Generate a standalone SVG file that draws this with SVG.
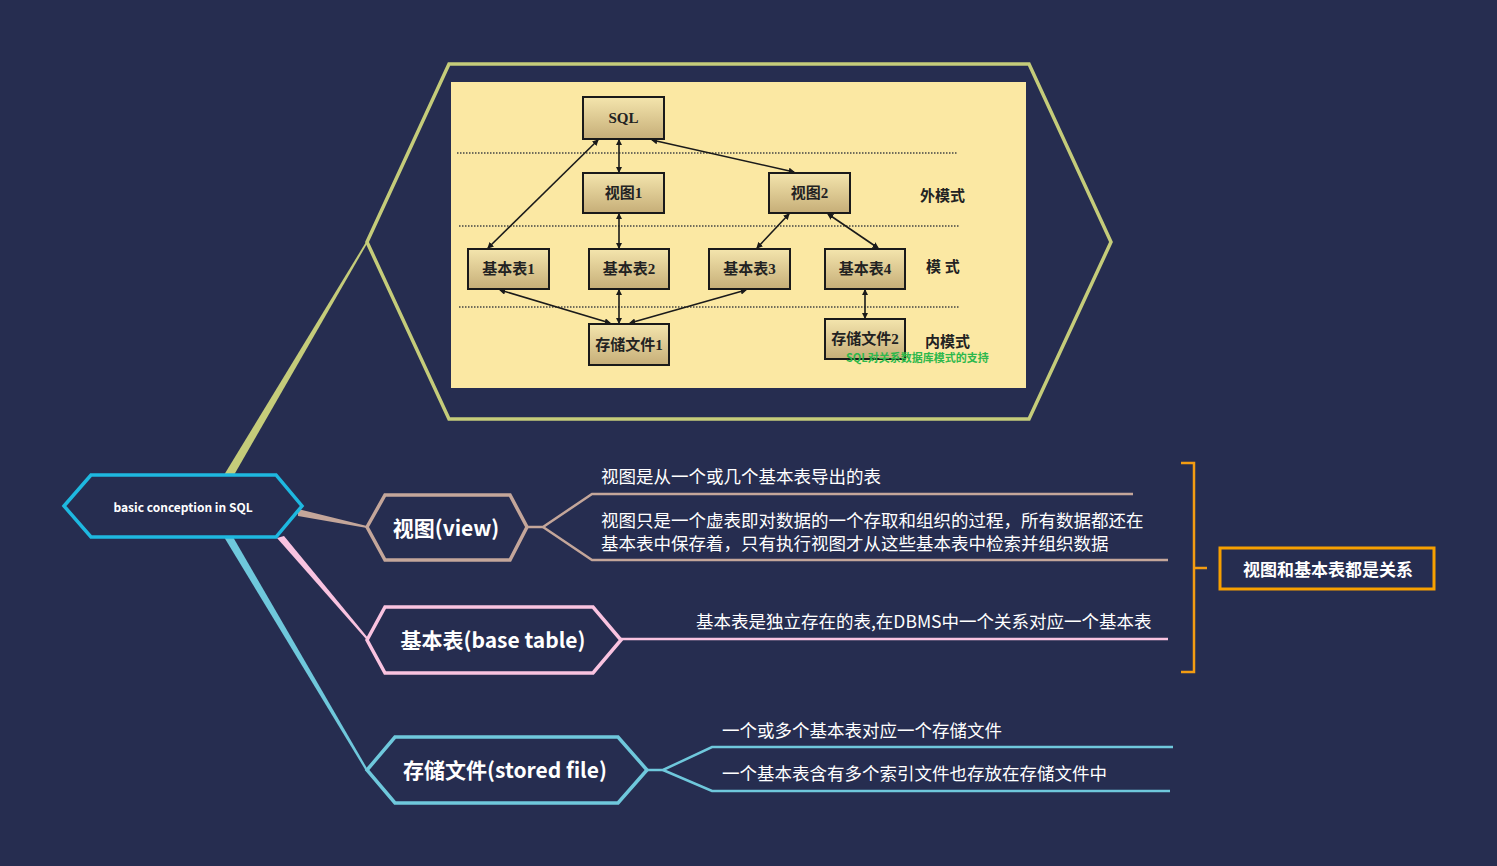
<svg xmlns="http://www.w3.org/2000/svg" width="1497" height="866" viewBox="0 0 1497 866">
<defs>
<style>
.bg{fill:#262d50}
.hexfill{fill:#262d50}
.lbl{font-family:"Noto Sans CJK SC","Noto Sans",sans-serif;fill:#ffffff}
.node{font-family:"Noto Sans CJK SC","Noto Sans",sans-serif;font-weight:bold;fill:#ffffff;text-anchor:middle;dominant-baseline:central}
.box{fill:url(#boxg);stroke:#1a1a1a;stroke-width:2}
.bt{font-family:"Liberation Serif","Noto Sans CJK SC",serif;font-weight:bold;font-size:15px;fill:#222;text-anchor:middle;dominant-baseline:central}
.dot{stroke:#444;stroke-width:1.5;stroke-dasharray:1.5 1.5;fill:none}
.ar{stroke:#1a1a1a;stroke-width:1.6;fill:none;marker-start:url(#ah);marker-end:url(#ah)}
.side{font-family:"Liberation Serif","Noto Sans CJK SC",serif;font-weight:bold;font-size:15px;fill:#222;dominant-baseline:central}
</style>
<linearGradient id="boxg" x1="0" y1="0" x2="0" y2="1">
<stop offset="0" stop-color="#f4e5ad"/>
<stop offset="1" stop-color="#c6ae78"/>
</linearGradient>
<marker id="ah" viewBox="0 0 6 6" refX="5" refY="3" markerWidth="4" markerHeight="4" orient="auto-start-reverse" markerUnits="strokeWidth">
<path d="M0,0 L6,3 L0,6 z" fill="#1a1a1a"/>
</marker>
</defs>
<rect class="bg" x="0" y="0" width="1497" height="866"/>

<g id="connectors">
<polygon points="224,475 234,475 368,242 366,242" fill="#c5cc7a"/>
<polygon points="298,509 298,516 367,528 367,526" fill="#c4a69a"/>
<polygon points="277,538 284,536 368,638 366,639" fill="#f9c3e0"/>
<polygon points="224,537 233,537 368,770 366,771" fill="#6fc8dc"/>
<polyline points="527,527 543,527 592,494 1133,494" fill="none" stroke="#c4a69a" stroke-width="2.5"/>
<polyline points="543,527 592,560 1168,560" fill="none" stroke="#c4a69a" stroke-width="2.5"/>
<line x1="621" y1="639" x2="1168" y2="639" stroke="#f9c3e0" stroke-width="2.5"/>
<polyline points="647,770 663,770 712,747 1173,747" fill="none" stroke="#6fc8dc" stroke-width="2.5"/>
<polyline points="663,770 712,791 1170,791" fill="none" stroke="#6fc8dc" stroke-width="2.5"/>
<polyline points="1181,463 1194,463 1194,672 1181,672" fill="none" stroke="#f39c12" stroke-width="2.5"/>
<line x1="1194" y1="568" x2="1207" y2="568" stroke="#f39c12" stroke-width="2.5"/>
</g>

<g id="image-node">
<polygon points="367,242 449,64 1029,64 1111,242 1029,419 449,419" class="hexfill" stroke="#c5cc7a" stroke-width="3.5"/>
<rect x="451" y="82" width="575" height="306" fill="#fbe8a3"/>
<line class="dot" x1="457" y1="153" x2="958" y2="153"/>
<line class="dot" x1="459" y1="226" x2="960" y2="226"/>
<line class="dot" x1="459" y1="307" x2="960" y2="307"/>
<g id="inner-arrows">
<line class="ar" x1="598" y1="140" x2="488" y2="248"/>
<line class="ar" x1="619" y1="140" x2="619" y2="172"/>
<line class="ar" x1="652" y1="140" x2="794" y2="172"/>
<line class="ar" x1="619" y1="214" x2="619" y2="248"/>
<line class="ar" x1="789" y1="214" x2="757" y2="248"/>
<line class="ar" x1="828" y1="214" x2="878" y2="248"/>
<line class="ar" x1="500" y1="290" x2="610" y2="323"/>
<line class="ar" x1="619" y1="290" x2="619" y2="323"/>
<line class="ar" x1="746" y1="290" x2="630" y2="323"/>
<line class="ar" x1="865" y1="290" x2="865" y2="318"/>
</g>
<g id="b-sql"><rect class="box" x="583" y="97" width="81" height="42"/><text class="bt" x="623.5" y="118">SQL</text></g>
<g id="b-v1"><rect class="box" x="583" y="173" width="81" height="40"/><text class="bt" x="623.5" y="193">视图1</text></g>
<g id="b-v2"><rect class="box" x="769" y="173" width="81" height="40"/><text class="bt" x="809.5" y="193">视图2</text></g>
<g id="b-t1"><rect class="box" x="468" y="249" width="81" height="40"/><text class="bt" x="508.5" y="269">基本表1</text></g>
<g id="b-t2"><rect class="box" x="589" y="249" width="80" height="40"/><text class="bt" x="629" y="269">基本表2</text></g>
<g id="b-t3"><rect class="box" x="709" y="249" width="81" height="40"/><text class="bt" x="749.5" y="269">基本表3</text></g>
<g id="b-t4"><rect class="box" x="825" y="249" width="80" height="40"/><text class="bt" x="865" y="269">基本表4</text></g>
<g id="b-f1"><rect class="box" x="589" y="324" width="80" height="41"/><text class="bt" x="629" y="345">存储文件1</text></g>
<g id="b-f2"><rect class="box" x="825" y="319" width="80" height="40"/><text class="bt" x="865" y="339">存储文件2</text></g>
<text class="side" x="920" y="196">外模式</text>
<text class="side" x="926" y="267">模 式</text>
<text class="side" x="925" y="342">内模式</text>
<text x="846" y="357" font-family="Noto Sans CJK SC,sans-serif" font-weight="bold" font-size="11" fill="#2db84c" dominant-baseline="central">SQL对关系数据库模式的支持</text>
</g>

<g id="root">
<polygon points="64,506 91,475 276,475 302,506 276,537 91,537" class="hexfill" stroke="#1eb8e0" stroke-width="3.5"/>
<text class="node" x="183" y="506" font-size="12" font-family="Noto Sans,sans-serif">basic conception in SQL</text>
</g>

<g id="view">
<polygon points="367,527 385,495 510,495 527,527 510,560 385,560" class="hexfill" stroke="#c4a69a" stroke-width="3.5"/>
<text class="node" x="446" y="527" font-size="21">视图(view)</text>
</g>
<g id="view-texts">
<text class="lbl" x="601" y="483" font-size="17.5">视图是从一个或几个基本表导出的表</text>
<text class="lbl" x="601" y="527" font-size="17.5">视图只是一个虚表即对数据的一个存取和组织的过程，所有数据都还在</text>
<text class="lbl" x="601" y="550" font-size="17.5">基本表中保存着，只有执行视图才从这些基本表中检索并组织数据</text>
</g>

<g id="basetable">
<polygon points="367,640 385,607 593,607 621,640 593,673 385,673" class="hexfill" stroke="#f9c3e0" stroke-width="3.5"/>
<text class="node" x="493" y="639" font-size="21">基本表(base table)</text>
</g>
<g id="basetable-texts">
<text class="lbl" x="696" y="628" font-size="17.5">基本表是独立存在的表,在DBMS中一个关系对应一个基本表</text>
</g>

<g id="storedfile">
<polygon points="367,770 395,737 618,737 647,770 618,803 395,803" class="hexfill" stroke="#6fc8dc" stroke-width="3.5"/>
<text class="node" x="505" y="769" font-size="21">存储文件(stored file)</text>
</g>
<g id="storedfile-texts">
<text class="lbl" x="722" y="737" font-size="17.5">一个或多个基本表对应一个存储文件</text>
<text class="lbl" x="722" y="780" font-size="17.5">一个基本表含有多个索引文件也存放在存储文件中</text>
</g>

<g id="summary">
<rect x="1220" y="548" width="214" height="41" fill="#262d50" stroke="#f7a000" stroke-width="3"/>
<text class="node" x="1328" y="568" font-size="17">视图和基本表都是关系</text>
</g>
</svg>
